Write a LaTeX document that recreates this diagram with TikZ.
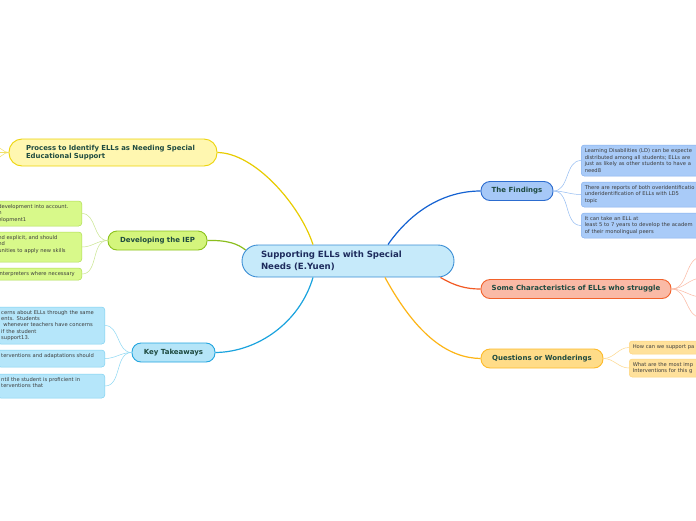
\documentclass[tikz,border=0pt]{standalone}
\usepackage{fontspec}
\setmainfont{DejaVu Sans}

\definecolor{hubfill}{HTML}{C6EAFA}
\definecolor{hubline}{HTML}{3B8ED5}
\definecolor{hubtext}{HTML}{1D2B5C}
\definecolor{branchtext}{HTML}{1E4A40}
\definecolor{leaftext}{HTML}{3C3C3C}
\definecolor{procfill}{HTML}{FFF7B0}
\definecolor{procline}{HTML}{EDD40A}
\definecolor{proclink}{HTML}{E8CC00}
\definecolor{iepfill}{HTML}{D4F57C}
\definecolor{iepline}{HTML}{8CC21C}
\definecolor{ieplink}{HTML}{8BBE1E}
\definecolor{iepkidfill}{HTML}{D8F98A}
\definecolor{iepkidline}{HTML}{B0DC55}
\definecolor{ieptwig}{HTML}{C9E68F}
\definecolor{keyfill}{HTML}{B5E5F8}
\definecolor{keyline}{HTML}{23A5DF}
\definecolor{keylink}{HTML}{1AA3DE}
\definecolor{keykidfill}{HTML}{B5E6FA}
\definecolor{keykidline}{HTML}{7FD1F1}
\definecolor{keytwig}{HTML}{8DD8F4}
\definecolor{findfill}{HTML}{A6C8F7}
\definecolor{findline}{HTML}{2C6CCF}
\definecolor{findlink}{HTML}{1462D2}
\definecolor{findkidfill}{HTML}{A9CBF8}
\definecolor{findkidline}{HTML}{86B1EF}
\definecolor{findtwig}{HTML}{93BBF2}
\definecolor{charfill}{HTML}{FABAA6}
\definecolor{charline}{HTML}{F2622B}
\definecolor{charlink}{HTML}{F25A24}
\definecolor{chartwig}{HTML}{FBB7A1}
\definecolor{questfill}{HTML}{FFDC88}
\definecolor{questline}{HTML}{FDBA2A}
\definecolor{questlink}{HTML}{FDB515}
\definecolor{questkidfill}{HTML}{FFE19B}
\definecolor{questkidline}{HTML}{FED47C}
\definecolor{questtwig}{HTML}{FED88C}

\newcommand\leaffont{\fontsize{5.2}{6.4}\selectfont\hyphenpenalty=10000\relax}

\begin{document}
\begin{tikzpicture}[x=1pt, y=-1pt,
	hub/.style={draw=hubline, fill=hubfill, line width=0.9pt, rounded corners=16pt,
		minimum width=212pt, minimum height=32pt, text width=174pt, align=left,
		inner xsep=19pt, inner ysep=0pt, text=hubtext, font=\fontsize{8.6}{12}\selectfont\bfseries},
	branch/.style={line width=0.9pt, rounded corners=9pt, minimum height=19pt, inner sep=0pt,
		text=branchtext, font=\fontsize{7}{8}\selectfont\bfseries},
	leaf/.style={line width=0.5pt, rounded corners=3pt, inner xsep=3.5pt, inner ysep=1pt,
		align=left, text=leaftext, font=\leaffont},
	link/.style={line width=1.2pt},
	twig/.style={line width=0.5pt}]
				\useasboundingbox (0,0) rectangle (696,520);
				\clip (0,0) rectangle (696,520);
				\fill [white] (0,0) rectangle (696,520);
				%
				\node [hub] (root) at (348,261) {Supporting ELLs with Special\\Needs (E.Yuen)};
				%
				\node [branch, draw=procline, fill=procfill, rounded corners=13pt, minimum width=208pt,
					minimum height=27pt, text width=174pt, align=left, inner xsep=17pt,
					font=\fontsize{6.9}{8}\selectfont\bfseries] (process) at (113,152.5)
					{Process to Identify ELLs as Needing Special\\Educational Support};
				\node [branch, draw=iepline, fill=iepfill, minimum width=99pt] (iep) at (157.5,240.5) {Developing the IEP};
				\node [branch, draw=keyline, fill=keyfill, minimum width=83pt] (key) at (173.5,352.5) {Key Takeaways};
				\node [branch, draw=findline, fill=findfill, minimum width=72pt] (find) at (517,191) {The Findings};
				\node [branch, draw=charline, fill=charfill, minimum width=190pt] (chars) at (576,289) {Some Characteristics of ELLs who struggle};
				\node [branch, draw=questline, fill=questfill, minimum width=122pt] (quest) at (542,358.5) {Questions or Wonderings};
				%
				\node [leaf, draw=iepkidline, fill=iepkidfill, anchor=east, text width=80pt, minimum height=25pt] (iep1) at (82,213.5)
					{development into account.\\n\\elopment1};
				\node [leaf, draw=iepkidline, fill=iepkidfill, anchor=east, text width=80pt, minimum height=30pt] (iep2) at (82,247)
					{nd explicit, and should\\nd\\unities to apply new skills\\\mbox{}};
				\node [leaf, draw=iepkidline, fill=iepkidfill, anchor=east, text width=80pt, minimum height=12pt] (iep3) at (82,274)
					{interpreters where necessary};
				%
				\node [leaf, draw=keykidline, fill=keykidfill, anchor=east, text width=100pt, minimum height=37pt] (key1) at (105,325.5)
					{cerns about ELLs through the same\\ents. Students\\\hspace*{2pt}whenever teachers have concerns\\if the student\\support13.};
				\node [leaf, draw=keykidline, fill=keykidfill, anchor=east, text width=100pt, minimum height=17pt] (key2) at (105,358.5)
					{terventions and adaptations should\\\mbox{}};
				\node [leaf, draw=keykidline, fill=keykidfill, anchor=east, text width=100pt, minimum height=24pt] (key3) at (105,386)
					{ntil the student is proficient in\\terventions that\\\mbox{}};
				%
				\node [leaf, draw=findkidline, fill=findkidfill, anchor=west, text width=170pt, minimum height=31pt] (find1) at (581,160.5)
					{Learning Disabilities (LD) can be expecte\\distributed among all students; ELLs are\\just as likely as other students to have a\\need8};
				\node [leaf, draw=findkidline, fill=findkidfill, anchor=west, text width=170pt, minimum height=25pt] (find2) at (581,194.5)
					{There are reports of both overidentificatio\\underidentification of ELLs with LD5\\topic};
				\node [leaf, draw=findkidline, fill=findkidfill, anchor=west, text width=170pt, minimum height=25pt] (find3) at (581,225.5)
					{It can take an ELL at\\least 5 to 7 years to develop the academ\\of their monolingual peers};
				%
				\node [leaf, draw=questkidline, fill=questkidfill, anchor=west, text width=100pt, minimum height=13pt] (quest1) at (629,347.5)
					{How can we support pa};
				\node [leaf, draw=questkidline, fill=questkidfill, anchor=west, text width=100pt, minimum height=18pt] (quest2) at (629,368)
					{What are the most imp\\Interventions for this g};
				%
				\coordinate (char1) at (702,257);
				\coordinate (char2) at (702,278);
				\coordinate (char3) at (702,297);
				\coordinate (char4) at (702,318);
				\coordinate (proc1) at (-4,147);
				\coordinate (proc2) at (-4,152.5);
				\coordinate (proc3) at (-4,158);
				%
				\draw [link, proclink] ([xshift=-35pt]root.north) .. controls (300,205) and (255,153) .. (process.east);
				\draw [link, ieplink] (iep.east) .. controls (228,240) and (238,244) .. ([shift={(4,-11)}]root.west);
				\draw [link, keylink] ([xshift=-35pt]root.south) .. controls (300,322) and (258,352) .. (key.east);
				\draw [link, findlink] ([xshift=40pt]root.north) .. controls (412,210) and (445,191) .. (find.west);
				\draw [link, charlink] ([xshift=-14pt]root.south east) .. controls (455,286) and (466,289) .. (chars.west);
				\draw [link, questlink] ([xshift=37pt]root.south) .. controls (418,338) and (450,358) .. (quest.west);
				%
				\foreach \k in {1,2,3} {
					\draw [twig, findtwig] (find.east) to [out=0, in=180] (find\k.west);
					\draw [twig, ieptwig] (iep.west) to [out=180, in=0] (iep\k.east);
					\draw [twig, keytwig] (key.west) to [out=180, in=0] (key\k.east);
					\draw [twig, proclink!60] (process.west) to [out=180, in=0] (proc\k);
				}
				\foreach \k in {1,2,3,4}
					\draw [twig, chartwig] (chars.east) to [out=0, in=180] (char\k);
				\foreach \k in {1,2}
					\draw [twig, questtwig] (quest.east) to [out=0, in=180] (quest\k.west);
		
			\end{tikzpicture}
\end{document}
